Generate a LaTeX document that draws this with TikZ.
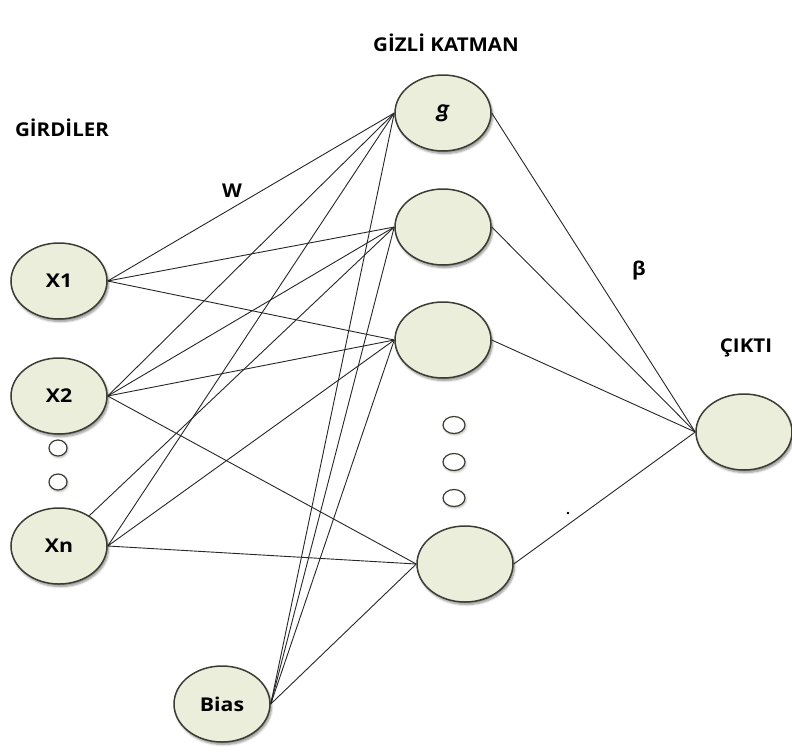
\documentclass[tikz,border=0pt]{standalone}
\usepackage{fontspec}
\setmainfont{Open Sans}
\newfontfamily\gfont{Carlito}
\usetikzlibrary{shapes.geometric,shadows.blur,backgrounds}
\definecolor{cream}{RGB}{236,238,220}
\definecolor{rim}{RGB}{60,60,50}
\tikzset{
  neuron/.style={ellipse, minimum width=96pt, minimum height=76pt, draw=rim, line width=1.5pt,
    fill=cream, inner sep=0pt, font=\bfseries\fontsize{19}{20}\selectfont,
    blur shadow={shadow xshift=1.5pt, shadow yshift=-2.5pt, shadow blur steps=6, shadow opacity=45}},
  dotnode/.style={ellipse, minimum width=22pt, minimum height=17pt, draw=rim, line width=1.2pt, fill=white, inner sep=0pt,
    blur shadow={shadow xshift=1pt, shadow yshift=-1.5pt, shadow blur steps=4, shadow opacity=30}},
  link/.style={draw=black!85, line width=0.9pt},
  lbl/.style={font=\bfseries\fontsize{19}{20}\selectfont, inner sep=0pt, anchor=base, xscale=1.08}
}
\begin{document}
\begin{tikzpicture}[x=1pt,y=-1pt]
\useasboundingbox (0,0) rectangle (792,753);
% nodes
\node[neuron] (x1) at (59,281) {\scalebox{1.12}[1]{X1}};
\node[neuron] (x2) at (59,396) {\scalebox{1.12}[1]{X2}};
\node[neuron] (xn) at (59,546) {\scalebox{1.12}[1]{Xn}};
\node[neuron] (bias) at (222,704) {\scalebox{1.12}[1]{Bias}};
\node[neuron] (h1) at (443,113) {\gfont\bfseries\itshape\fontsize{26}{26}\selectfont g};
\node[neuron] (h2) at (443,227) {};
\node[neuron] (h3) at (443,340) {};
\node[neuron] (h4) at (465,564) {};
\node[neuron] (out) at (744,432) {};
\node[dotnode, minimum width=18pt, minimum height=16pt] (d1) at (58,448) {};
\node[dotnode, minimum width=18pt, minimum height=16pt] (d2) at (58,482) {};
\node[dotnode] (d3) at (454,425) {};
\node[dotnode] (d4) at (454,462) {};
\node[dotnode] (d5) at (454,498) {};
% labels
\node[lbl] (tin) at (62,136) {GİRDİLER};
\node[lbl] (thid) at (446,51) {GİZLİ KATMAN};
\node[lbl] (tw) at (232,197) {W};
\node[lbl] (tb) at (639,275) {β};
\node[lbl] (tout) at (746,352) {ÇIKTI};
\node[inner sep=0pt, font=\bfseries\fontsize{14}{14}\selectfont] (dot) at (568,514) {.};
% connectors
\begin{pgfonlayer}{background}
\foreach \h in {h1,h2,h3} \draw[link] (x1.east) -- (\h.west);
\foreach \h in {h1,h2,h3,h4} \draw[link] (x2.east) -- (\h.west);
\foreach \h in {h1,h3,h4} \draw[link] (xn.east) -- (\h.west);
\draw[link] (xn.45) -- (h2.west);
\foreach \h in {h1,h2,h3,h4} {
  \draw[link] (bias.east) -- (\h.west);
  \draw[link] (\h.east) -- (out.west);
}
\end{pgfonlayer}
\end{tikzpicture}
\end{document}
